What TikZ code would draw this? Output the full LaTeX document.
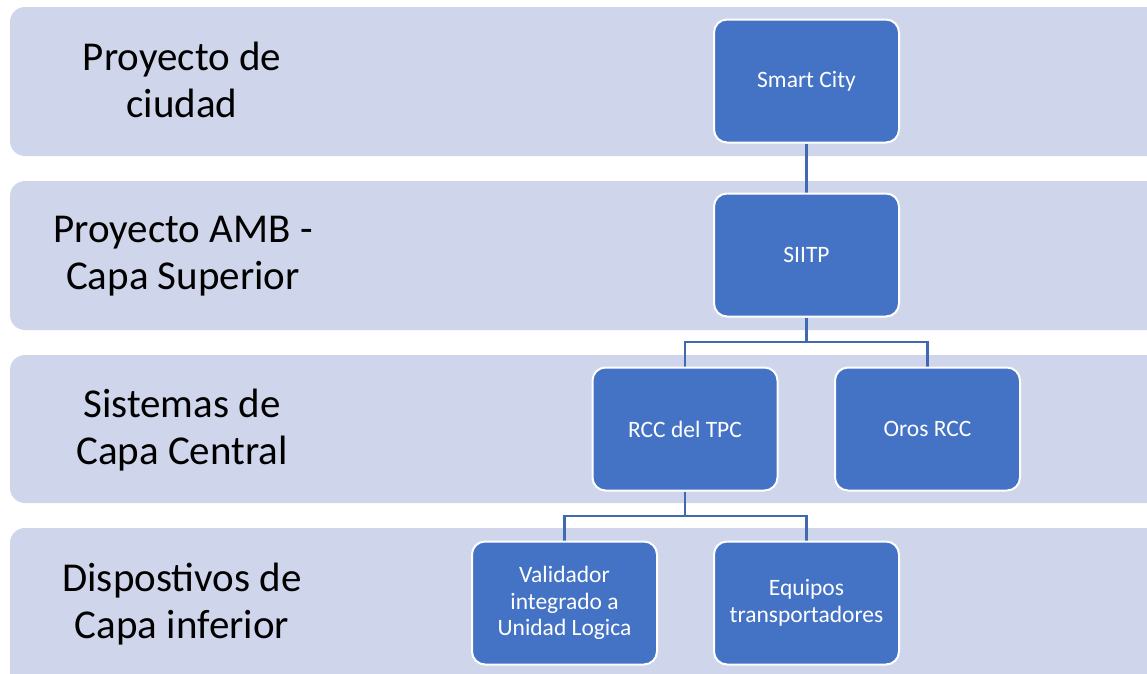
\documentclass[tikz,border=0pt]{standalone}
\usepackage{fontspec}
\setmainfont{Carlito}
\definecolor{bandfill}{HTML}{CFD5EA}
\definecolor{boxfill}{HTML}{4472C4}
\definecolor{linkcol}{HTML}{4169B2}
\pgfdeclarelayer{bands}
\pgfdeclarelayer{links}
\pgfsetlayers{bands,links,main}
\tikzset{
  band/.style={fill=bandfill, rounded corners=15pt},
  layerlabel/.style={align=center, text=black, font=\fontsize{41}{47}\selectfont, inner sep=0pt},
  unit/.style={draw=white, line width=2pt, fill=boxfill, rounded corners=13pt,
    minimum width=185pt, minimum height=123pt, inner sep=0pt, align=center,
    text=white, font=\fontsize{23.5}{26.5}\selectfont},
  link/.style={draw=linkcol, line width=2.4pt}
}
\begin{document}
\begin{tikzpicture}[x=1pt, y=-1pt]
\useasboundingbox (0,0) rectangle (1147,673);
\clip (0,0) rectangle (1147,673);

% horizontal layer bands
\begin{pgfonlayer}{bands}
  \fill[band] (10,7)   rectangle (1170,156);
  \fill[band] (10,181) rectangle (1170,330);
  \fill[band] (10,355) rectangle (1170,503);
  \fill[band] (10,528) rectangle (1170,700);
\end{pgfonlayer}

% layer titles
\node[layerlabel] (l1) at (182,80)  {Proyecto de\\ciudad};
\node[layerlabel] (l2) at (183,256) {Proyecto AMB -\\Capa Superior};
\node[layerlabel] (l3) at (182,430) {Sistemas de\\Capa Central};
\node[layerlabel] (l4) at (182,604) {Dispostivos de\\Capa inferior};

% hierarchy boxes
\node[unit] (smart) at (806.5,81)  {Smart City};
\node[unit] (siitp) at (806.5,255) {SIITP};
\node[unit] (rcc)   at (685,429)   {RCC del TPC};
\node[unit] (oros)  at (927.5,429) {Oros RCC};
\node[unit] (valid) at (564.5,603) {Validador\\integrado a\\Unidad Logica};
\node[unit] (equip) at (806.5,603) {Equipos\\transportadores};

% connectors
\coordinate (j1) at (806.5,342);
\coordinate (j2) at (685,516);
\begin{pgfonlayer}{links}
  \draw[link] (smart.south) -- (siitp.north);
  \draw[link] (siitp.south) -- (j1);
  \draw[link] (rcc.north) |- (j1) -| (oros.north);
  \draw[link] (rcc.south) -- (j2);
  \draw[link] (valid.north) |- (j2) -| (equip.north);
\end{pgfonlayer}
\end{tikzpicture}
\end{document}
